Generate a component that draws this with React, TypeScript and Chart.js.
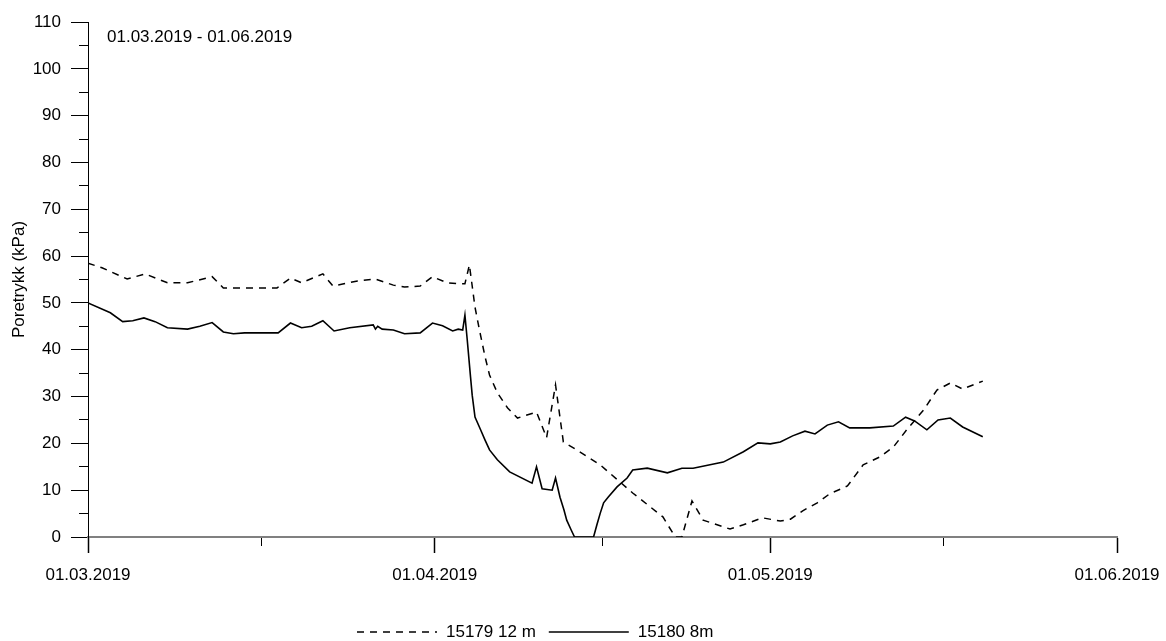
import React, { useEffect, useRef } from 'react';
import { Chart, registerables } from 'chart.js';

Chart.register(...registerables);

const FONT = "'Liberation Sans', Arial, sans-serif";

// Day offsets from 01.03.2019
const xTickDays = [0, 31, 61, 92];
const xTickLabels = ['01.03.2019', '01.04.2019', '01.05.2019', '01.06.2019'];
const xMinorTickDays = [15.5, 46, 76.5];

const yTitle = 'Poretrykk (kPa)';
const periodText = '01.03.2019 - 01.06.2019';
const seriesLabels = ['15179 12 m', '15180 8m'];

// 15179 12 m (dashed)
const dashedDays = [
  0, 1.25, 3.5, 5.1, 7.1, 8.9, 11.1, 12.1, 16.9, 18.1, 19.1, 21.0, 21.9, 24.1, 25.7, 27.3, 28.3, 29.7,
  30.8, 32.1, 33.0, 33.7, 34.1, 34.6, 35.0, 35.5, 35.9, 36.6, 37.5, 38.4, 40.1, 41.0, 41.8, 42.5, 43.7, 45.8,
  48.7, 51.4, 52.5, 53.1, 54.0, 55.0, 57.4, 58.6, 60.3, 61.9, 62.8, 63.9, 65.2, 66.3, 67.9, 69.3,
  70.8, 72.0, 73.2, 74.7, 75.9, 77.1, 78.2, 80.0,
];
const dashedValues = [
  58.5, 57.5, 55.1, 56.2, 54.3, 54.3, 55.6, 53.2, 53.2, 55.3, 54.3, 56.2, 53.6, 54.7, 55.1, 53.8, 53.4, 53.6,
  55.6, 54.3, 54.1, 54.1, 58.1, 49.1, 44.2, 38.5, 34.6, 30.8, 27.6, 25.4, 26.7, 21.2, 32.5, 20.3, 18.6, 15.4,
  9.4, 4.3, 0, 0, 7.7, 3.6, 1.7, 2.6, 4.1, 3.4, 3.8, 5.6, 7.3, 9.2, 10.9, 15.4,
  17.1, 19.2, 22.9, 27.1, 31.4, 32.9, 31.6, 33.3,
];

// 15180 8m (solid)
const solidDays = [
  0, 2.0, 3.1, 4.0, 5.0, 6.0, 7.1, 8.9, 10.0, 11.1, 12.1, 13.0, 14.0, 17.0, 18.1, 19.1, 20.0, 21.0,
  22.0, 23.4, 25.5, 25.7, 25.9, 26.3, 27.3, 28.3, 29.7, 30.8, 31.7, 32.6, 33.1, 33.5, 33.7, 33.9,
  34.2, 34.35, 34.6, 35.1, 35.5, 35.9, 36.6, 37.7, 39.7, 40.1, 40.6, 41.5, 41.8, 42.2, 42.55, 42.8, 43.2, 43.5,
  45.2, 45.5, 45.8, 46.1, 46.5, 47.3, 48.2, 48.7, 50.0, 51.8, 53.1, 54.1, 56.8, 58.6, 59.9, 61.0, 61.9, 63.0,
  64.1, 65.0, 66.1, 67.1, 68.1, 69.9, 72.0, 73.1, 73.9, 75.0, 76.0, 77.1, 78.2, 80.0,
];
const solidValues = [
  50, 47.9, 46.0, 46.2, 46.8, 46.0, 44.7, 44.4, 45.0, 45.8, 43.8, 43.4, 43.6, 43.6, 45.7, 44.7, 45.0, 46.2,
  44.0, 44.7, 45.3, 44.4, 45.0, 44.4, 44.2, 43.4, 43.6, 45.7, 45.1, 44.0, 44.4, 44.2, 47.4, 42.3,
  34.2, 30.3, 25.6, 22.9, 20.7, 18.6, 16.5, 13.9, 11.5, 15.0, 10.3, 10.0, 12.6, 8.5, 5.8, 3.6, 1.5, 0,
  0, 2.6, 5.1, 7.3, 8.5, 10.7, 12.6, 14.3, 14.7, 13.7, 14.7, 14.7, 16.0, 18.2, 20.1, 19.9, 20.3, 21.6,
  22.6, 22.0, 23.9, 24.6, 23.3, 23.3, 23.7, 25.6, 24.8, 22.9, 25.0, 25.4, 23.5, 21.4,
];

const overlayPlugin = {
  id: 'overlay',
  afterDraw(chart: any) {
    const ctx = chart.ctx as CanvasRenderingContext2D;
    const area = chart.chartArea;
    ctx.save();
    ctx.font = `17px ${FONT}`;
    ctx.fillStyle = '#000';
    ctx.textBaseline = 'middle';
    ctx.textAlign = 'left';
    ctx.fillText(periodText, area.left + 19, area.top + 15);

    // legend
    let x = 357;
    const y = 632;
    chart.data.datasets.forEach((ds: any) => {
      ctx.beginPath();
      ctx.setLineDash(ds.borderDash || []);
      ctx.lineWidth = ds.borderWidth;
      ctx.strokeStyle = ds.borderColor;
      ctx.moveTo(x, y);
      ctx.lineTo(x + 80, y);
      ctx.stroke();
      ctx.setLineDash([]);
      x += 80 + 9;
      ctx.fillText(ds.label, x, y);
      x += ctx.measureText(ds.label).width + 13;
    });
    ctx.restore();
  },
};

export default function App() {
  const canvasRef = useRef<HTMLCanvasElement | null>(null);

  useEffect(() => {
    if (!canvasRef.current) return;
    const font = { family: FONT, size: 17 };
    const chart = new Chart(canvasRef.current, {
      type: 'line',
      data: {
        datasets: [
          {
            label: seriesLabels[0],
            data: dashedDays.map((d, i) => ({ x: d, y: dashedValues[i] })),
            borderColor: '#000',
            borderWidth: 1.5,
            borderDash: [7, 6],
            pointRadius: 0,
            tension: 0,
            fill: false,
            xAxisID: 'x',
            yAxisID: 'y',
          },
          {
            label: seriesLabels[1],
            data: solidDays.map((d, i) => ({ x: d, y: solidValues[i] })),
            borderColor: '#000',
            borderWidth: 1.6,
            pointRadius: 0,
            tension: 0,
            fill: false,
            xAxisID: 'x',
            yAxisID: 'y',
          },
        ],
      },
      options: {
        animation: false,
        responsive: true,
        maintainAspectRatio: false,
        layout: { padding: { top: 22, right: 49, left: 0, bottom: 34 } },
        plugins: {
          legend: { display: false },
          tooltip: { enabled: false },
        },
        scales: {
          x: {
            type: 'linear',
            position: 'bottom',
            weight: 10,
            min: 0,
            max: 92,
            afterBuildTicks: (s: any) => {
              s.ticks = xTickDays.map((v) => ({ value: v }));
            },
            afterFit: (s: any) => {
              s.height = 70;
              s.paddingLeft = 40;
              s.paddingRight = 40;
            },
            ticks: {
              autoSkip: false,
              maxRotation: 0,
              minRotation: 0,
              padding: 12,
              color: '#000',
              font,
              callback: (v: any) => {
                const i = xTickDays.indexOf(Number(v));
                return i >= 0 ? xTickLabels[i] : '';
              },
            },
            grid: { drawOnChartArea: false, tickLength: 16, tickColor: '#000', color: '#000', tickWidth: 1.5 },
            border: { color: '#808080', width: 2 },
          },
          xMinor: {
            type: 'linear',
            position: 'bottom',
            weight: 0,
            min: 0,
            max: 92,
            afterBuildTicks: (s: any) => {
              s.ticks = xMinorTickDays.map((v) => ({ value: v }));
            },
            afterFit: (s: any) => {
              s.height = 0;
              s.paddingLeft = 0;
              s.paddingRight = 0;
            },
            ticks: { display: false },
            grid: { drawOnChartArea: false, tickLength: 9, tickColor: '#000', color: '#000' },
            border: { display: false },
          },
          y: {
            type: 'linear',
            position: 'left',
            weight: 10,
            min: 0,
            max: 110,
            afterFit: (s: any) => {
              s.width = 88;
            },
            ticks: { stepSize: 10, padding: 10, color: '#000', font },
            grid: { drawOnChartArea: false, tickLength: 17, tickColor: '#000', color: '#000' },
            border: { color: '#000', width: 1 },
            title: { display: true, text: yTitle, color: '#000', font, padding: { top: 9, bottom: 0 } },
          },
          yMinor: {
            type: 'linear',
            position: 'left',
            weight: 0,
            min: 0,
            max: 110,
            afterFit: (s: any) => {
              s.width = 0;
            },
            ticks: { display: false, stepSize: 5 },
            grid: { drawOnChartArea: false, tickLength: 9, tickColor: '#000', color: '#000' },
            border: { display: false },
          },
        },
      } as any,
      plugins: [overlayPlugin],
    });
    return () => chart.destroy();
  }, []);

  return (
    <div style={{ position: 'fixed', left: 0, top: 0, width: 1166, height: 641, background: '#fff' }}>
      <canvas ref={canvasRef} />
    </div>
  );
}
